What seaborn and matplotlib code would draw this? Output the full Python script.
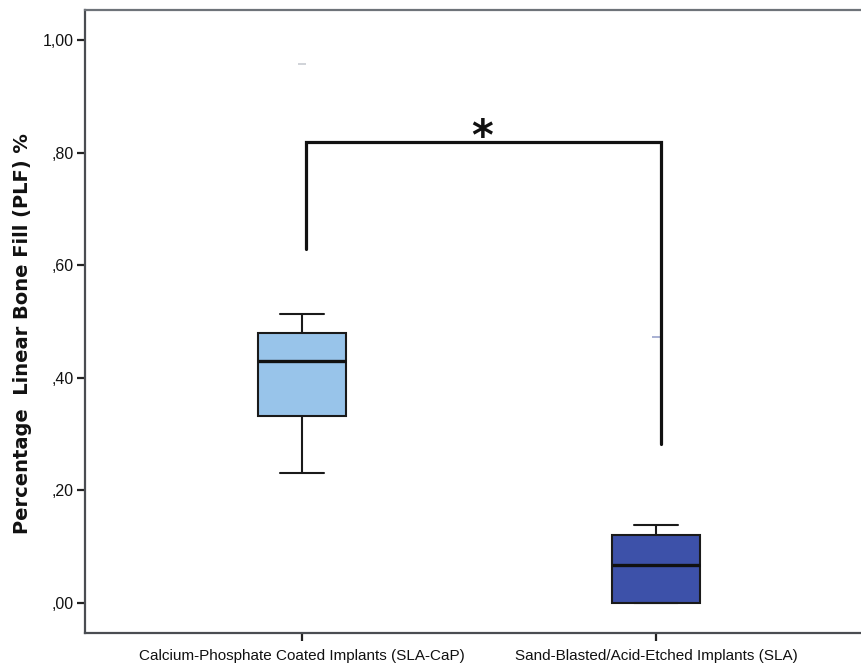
import matplotlib
matplotlib.use("Agg")
import matplotlib.pyplot as plt
import seaborn as sns
import pandas as pd

# ---- data ----
groups = ["Calcium-Phosphate Coated Implants (SLA-CaP)",
          "Sand-Blasted/Acid-Etched Implants (SLA)"]
sla_cap_values = [0.231, 0.332, 0.430, 0.480, 0.514]
sla_values = [0.000, 0.000, 0.068, 0.121, 0.139]
faint_marks = [0.957, 0.473]          # faint dashes above each box
bracket_left_bottom = 0.628
bracket_right_bottom = 0.283
bracket_top = 0.818
sig_label = "*"
ytick_values = [0.0, 0.2, 0.4, 0.6, 0.8, 1.0]
ytick_labels = [",00", ",20", ",40", ",60", ",80", "1,00"]
y_label = "Percentage  Linear Bone Fill (PLF) %"
colors = ["#98C4EA", "#3D51A9"]

df = pd.DataFrame({
    "group": [groups[0]] * len(sla_cap_values) + [groups[1]] * len(sla_values),
    "plf": sla_cap_values + sla_values,
})

sns.set_style("white")
plt.rcParams["font.family"] = ["Liberation Sans", "DejaVu Sans"]

fig = plt.figure(figsize=(8.62, 6.64), dpi=100)
ax = fig.add_axes([85 / 862, 31 / 664, 1 - 85 / 862, 623 / 664])

sns.boxplot(data=df, x="group", y="plf", hue="group", palette=colors,
            saturation=1, legend=False, width=0.25, whis=1.5, ax=ax,
            linecolor="#1a1a1a", linewidth=1.5,
            medianprops=dict(color="#111111", linewidth=2.4),
            showfliers=False)

# faint marks
ax.scatter([0, 1], faint_marks, marker="_", s=40,
           color=["#c8ccd2", "#9aa3cc"], linewidths=1.2, zorder=3)

# significance bracket
ax.plot([0.01, 0.01, 1.015, 1.015],
        [bracket_left_bottom, bracket_top, bracket_top, bracket_right_bottom],
        color="#111111", linewidth=2.3, solid_joinstyle="miter", zorder=4)
ax.text(0.51, bracket_top - 0.013, sig_label, ha="center", va="baseline",
        fontsize=30, fontweight="bold", color="#111111",
        family=["DejaVu Sans"])

ax.set_xlim(-0.613, 1.582)
ax.set_ylim(-0.053, 1.053)
ax.set_yticks(ytick_values)
ax.set_yticklabels(ytick_labels, fontsize=11.5)
ax.set_xticks([0, 1])
ax.set_xticklabels(groups, fontsize=11, color="#111111")
ax.set_xlabel("")
ax.set_ylabel(y_label, fontsize=14, fontweight="bold",
              family=["DejaVu Sans"], color="#111111")
ax.yaxis.set_label_coords(-0.068, 0.48)

for side in ["left", "bottom", "top"]:
    ax.spines[side].set_visible(True)
    ax.spines[side].set_color("#4a4d52")
    ax.spines[side].set_linewidth(1.6)
ax.spines["right"].set_visible(False)
ax.spines["top"].set_color("#6e7379")

ax.tick_params(axis="y", direction="out", length=6, width=1.6,
               color="#222222", left=True, pad=2, labelcolor="#111111")
ax.tick_params(axis="x", direction="out", length=6, width=1.6,
               color="#222222", bottom=True, pad=5.5)

fig.savefig("out.png", dpi=100, facecolor="white")
